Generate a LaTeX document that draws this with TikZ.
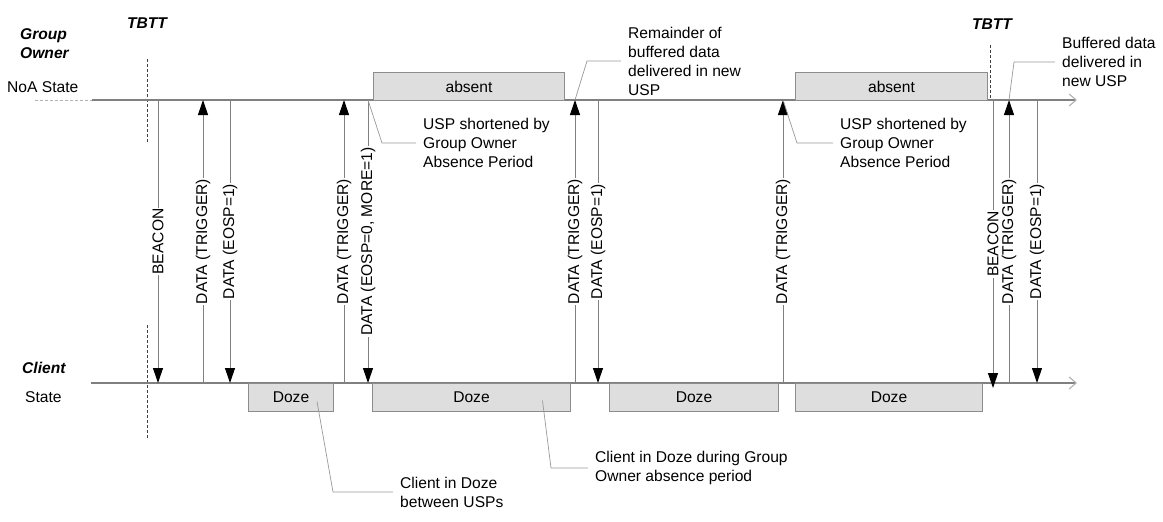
\documentclass[tikz,border=0pt]{standalone}
\usepackage{fontspec}
\setmainfont{Liberation Sans}
\usetikzlibrary{arrows.meta}

\begin{document}
\begin{tikzpicture}[x=1pt,y=-1pt,
	font=\fontsize{15.6}{19}\selectfont,
	heading/.style={font=\fontsize{15.6}{19}\selectfont\bfseries\itshape,align=left,inner sep=0pt},
	plain/.style={inner sep=0pt},
	timeline/.style={draw=black!50,line width=1.1pt,-{Straight Barb[length=7pt,width=12pt,color=black!30]}},
	tbttline/.style={draw=black!75,line width=0.6pt,dash pattern=on 3pt off 2pt},
	msg/.style={draw=black!50,line width=1pt,-{Triangle[length=15pt,width=10pt,black]}},
	msglabel/.style={rotate=90,fill=white,inner sep=1pt},
	statebox/.style={draw=black!45,fill=black!13,line width=1pt,minimum height=28pt,inner sep=0pt,anchor=north west},
	callout/.style={anchor=west,align=left,inner xsep=7pt,inner ysep=0pt},
	leader/.style={draw=black!40,line width=0.7pt}]
	\useasboundingbox (0,0) rectangle (1163,522);
	\node[heading,anchor=west] (go) at (20,44) {Group\\Owner};
	\node[plain,anchor=west] (noa) at (7,87) {NoA State};
	\node[heading,anchor=west] (cl) at (22,368) {Client};
	\node[plain,anchor=west] (st) at (25,397) {State};
	\node[heading] (tbtt1) at (147,23) {TBTT};
	\node[heading] (tbtt2) at (992,24) {TBTT};
	\draw[tbttline] (147,59) -- (147,143);
	\draw[tbttline] (147,325) -- (147,439);
	\draw[tbttline] (990,45) -- (990,100);
	\coordinate (gol) at (35,100);
	\coordinate (gos) at (92,100);
	\coordinate (goe) at (1077,100);
	\coordinate (cls) at (91,383);
	\coordinate (cle) at (1077,383);
	\draw[black!30,line width=0.8pt,dash pattern=on 3pt off 2pt] (gol) -- (gos);
	\draw[timeline] (gos) -- (goe);
	\draw[timeline] (cls) -- (cle);
	\node[statebox,minimum width=191pt] (abs1) at (373,72) {absent};
	\node[statebox,minimum width=192pt] (abs2) at (795,72) {absent};
	\node[statebox,minimum width=85pt] (doze1) at (248,383) {Doze};
	\node[statebox,minimum width=198pt] (doze2) at (372,383) {Doze};
	\node[statebox,minimum width=169pt] (doze3) at (609,383) {Doze};
	\node[statebox,minimum width=187pt] (doze4) at (795,383) {Doze};
	\coordinate (t1) at (158,100);   \coordinate (b1) at (158,383);
	\coordinate (t2) at (203,100);   \coordinate (b2) at (203,383);
	\coordinate (t3) at (230,100);   \coordinate (b3) at (230,383);
	\coordinate (t4) at (344,100);   \coordinate (b4) at (344,383);
	\coordinate (t5) at (368,100);   \coordinate (b5) at (368,383);
	\coordinate (t6) at (575,100);   \coordinate (b6) at (575,383);
	\coordinate (t7) at (598,100);   \coordinate (b7) at (598,383);
	\coordinate (t8) at (783,100);   \coordinate (b8) at (783,383);
	\coordinate (t9) at (993,100);   \coordinate (b9) at (993,388);
	\coordinate (t10) at (1009,100); \coordinate (b10) at (1009,383);
	\coordinate (t11) at (1037,100); \coordinate (b11) at (1037,383);
	\draw[msg] (t1) -- node[msglabel] {BEACON} (b1);
	\draw[msg] (b2) -- node[msglabel] {DATA (TRIGGER)} (t2);
	\draw[msg] (t3) -- node[msglabel] {DATA (EOSP=1)} (b3);
	\draw[msg] (b4) -- node[msglabel] {DATA (TRIGGER)} (t4);
	\draw[msg] (t5) -- node[msglabel] {DATA (EOSP=0, MORE=1)} (b5);
	\draw[msg] (b6) -- node[msglabel] {DATA (TRIGGER)} (t6);
	\draw[msg] (t7) -- node[msglabel] {DATA (EOSP=1)} (b7);
	\draw[msg] (b8) -- node[msglabel] {DATA (TRIGGER)} (t8);
	\draw[msg] (t9) -- node[msglabel] {BEACON} (b9);
	\draw[msg] (b10) -- node[msglabel] {DATA (TRIGGER)} (t10);
	\draw[msg] (t11) -- node[msglabel] {DATA (EOSP=1)} (b11);
	\node[callout] (usp1) at (416,143) {USP shortened by\\Group Owner\\Absence Period};
	\node[callout] (rem) at (621,61) {Remainder of\\buffered data\\delivered in new\\USP};
	\node[callout] (usp2) at (833,143) {USP shortened by\\Group Owner\\Absence Period};
	\node[callout] (buf) at (1055,62) {Buffered data\\delivered in\\new USP};
	\node[callout] (betw) at (393,492) {Client in Doze\\between USPs};
	\node[callout] (dur) at (588,468) {Client in Doze during Group\\Owner absence period};
	\draw[leader] (t5) -- (382,143) -- (usp1.west);
	\draw[leader] (t6) -- (587,61) -- (rem.west);
	\draw[leader] (t8) -- (797,143) -- (usp2.west);
	\draw[leader] (t10) -- (1014,62) -- (buf.west);
	\draw[leader] ([xshift=26pt,yshift=-4pt]doze1.center) -- (333,492) -- (betw.west);
	\draw[leader] ([xshift=71pt,yshift=-3pt]doze2.center) -- (551,468) -- (dur.west);
\end{tikzpicture}
\end{document}
